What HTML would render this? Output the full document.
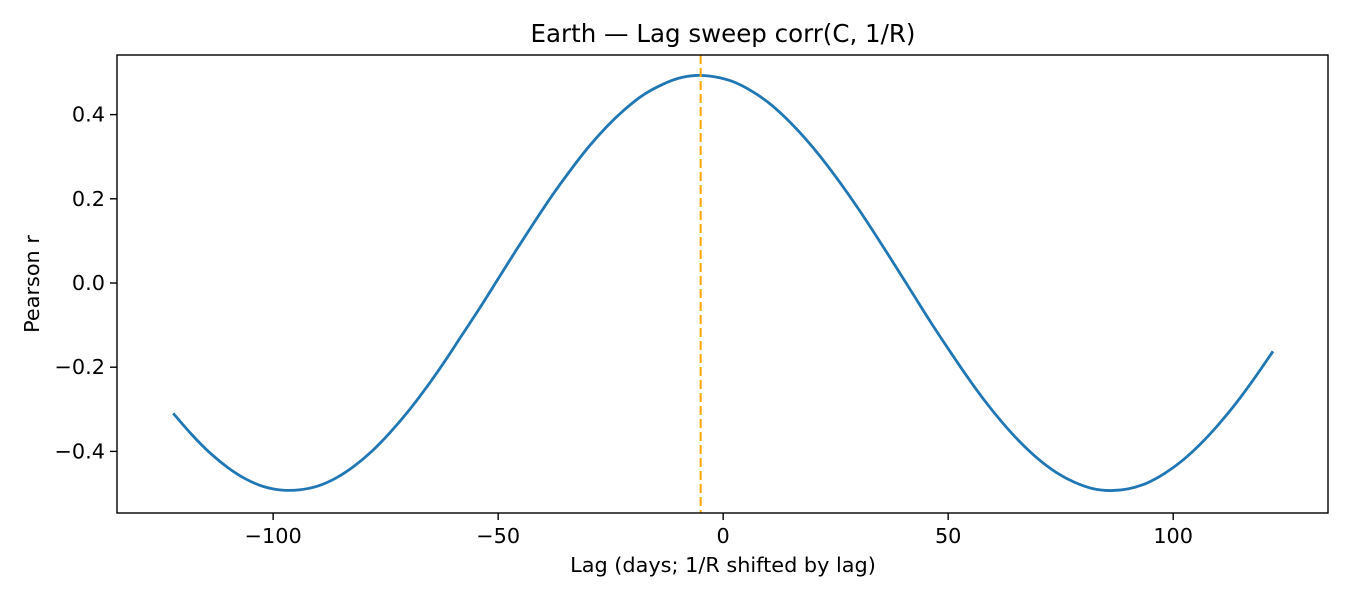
<!DOCTYPE html>
<html><head><meta charset="utf-8"><style>
html,body{margin:0;padding:0;background:#fff;}
svg text{font-family:"DejaVu Sans","Liberation Sans",sans-serif;fill:#000;}
</style></head><body>
<svg id="chart" width="1350" height="600" xmlns="http://www.w3.org/2000/svg">
<rect width="1350" height="600" fill="#fff"/>
<text x="723" y="42" font-size="24.5" text-anchor="middle">Earth — Lag sweep corr(C, 1/R)</text>
<g id="xticks"></g>
<g id="yticks"></g>
<g id="marks"></g>
<rect x="117" y="55" width="1211" height="458" fill="none" stroke="#000" stroke-width="1.4"/>
<text x="723" y="572" font-size="20.8" text-anchor="middle">Lag (days; 1/R shifted by lag)</text>
<text transform="translate(39,284) rotate(-90)" font-size="20.8" text-anchor="middle">Pearson r</text>
</svg>
<script>
const lags = [];
for (let l = -122; l <= 122; l += 4) lags.push(l);
const pearsonR = [-0.312,-0.361,-0.404,-0.439,-0.466,-0.484,-0.492,-0.491,-0.482,-0.463,-0.435,-0.399,-0.355,-0.305,-0.249,-0.188,-0.123,-0.058,0.010,0.078,0.144,0.208,0.267,0.322,0.370,0.411,0.445,0.469,0.486,0.493,0.490,0.479,0.458,0.429,0.391,0.346,0.295,0.238,0.177,0.112,0.045,-0.023,-0.091,-0.156,-0.219,-0.278,-0.331,-0.378,-0.418,-0.450,-0.473,-0.488,-0.493,-0.489,-0.476,-0.453,-0.422,-0.383,-0.337,-0.285,-0.227,-0.165];
const bestLag = [-5];
const xTickValues = [-100,-50,0,50,100];
const xTickLabels = ["−100","−50","0","50","100"];
const yTickValues = [-0.4,-0.2,0.0,0.2,0.4];
const yTickLabels = ["−0.4","−0.2","0.0","0.2","0.4"];

const NS = "http://www.w3.org/2000/svg";
const X0 = 117, X1 = 1328, Y0 = 55, Y1 = 513;
const xMin = -134.7, xMax = 134.4, yMin = -0.5463, yMax = 0.5416;
const xs = v => X0 + (v - xMin) / (xMax - xMin) * (X1 - X0);
const ys = v => Y1 - (v - yMin) / (yMax - yMin) * (Y1 - Y0);
function mk(tag, attrs, parent) {
  const e = document.createElementNS(NS, tag);
  for (const k in attrs) e.setAttribute(k, attrs[k]);
  parent.appendChild(e);
  return e;
}
const gx = document.getElementById('xticks');
xTickValues.forEach((v, i) => {
  const t = mk('line', {x1: xs(v), x2: xs(v), y1: Y1, y2: Y1 + 7, stroke: '#000', 'stroke-width': 1.4}, gx);
  
  
  const tx = mk('text', {x: xs(v), y: Y1 + 30, 'font-size': 20.8, 'text-anchor': 'middle'}, gx);
  tx.textContent = xTickLabels[i];
  
  
});
const gy = document.getElementById('yticks');
yTickValues.forEach((v, i) => {
  const t = mk('line', {x1: X0 - 7, x2: X0, y1: ys(v), y2: ys(v), stroke: '#000', 'stroke-width': 1.4}, gy);
  
  
  const tx = mk('text', {x: X0 - 12, y: ys(v) + 7, 'font-size': 20.8, 'text-anchor': 'end'}, gy);
  tx.textContent = yTickLabels[i];
  
  
});
const gm = document.getElementById('marks');
const P = lags.map((l, i) => [xs(l), ys(pearsonR[i])]);
let d = 'M' + P[0][0].toFixed(2) + ',' + P[0][1].toFixed(2);
for (let i = 0; i < P.length - 1; i++) {
  const p0 = P[Math.max(i - 1, 0)], p1 = P[i], p2 = P[i + 1], p3 = P[Math.min(i + 2, P.length - 1)];
  const c1x = p1[0] + (p2[0] - p0[0]) / 6, c1y = p1[1] + (p2[1] - p0[1]) / 6;
  const c2x = p2[0] - (p3[0] - p1[0]) / 6, c2y = p2[1] - (p3[1] - p1[1]) / 6;
  d += ' C' + c1x.toFixed(2) + ',' + c1y.toFixed(2) + ' ' + c2x.toFixed(2) + ',' + c2y.toFixed(2) + ' ' + p2[0].toFixed(2) + ',' + p2[1].toFixed(2);
}
const pl = mk('path', {d: d, fill: 'none', stroke: '#1f77b4', 'stroke-width': 2.8, 'stroke-linejoin': 'round', 'stroke-linecap': 'square'}, gm);


const vl = mk('line', {x1: xs(bestLag[0]), x2: xs(bestLag[0]), y1: Y0, y2: Y1, stroke: '#ffa500', 'stroke-width': 2, 'stroke-dasharray': '9,4'}, gm);


</script>
</body></html>
